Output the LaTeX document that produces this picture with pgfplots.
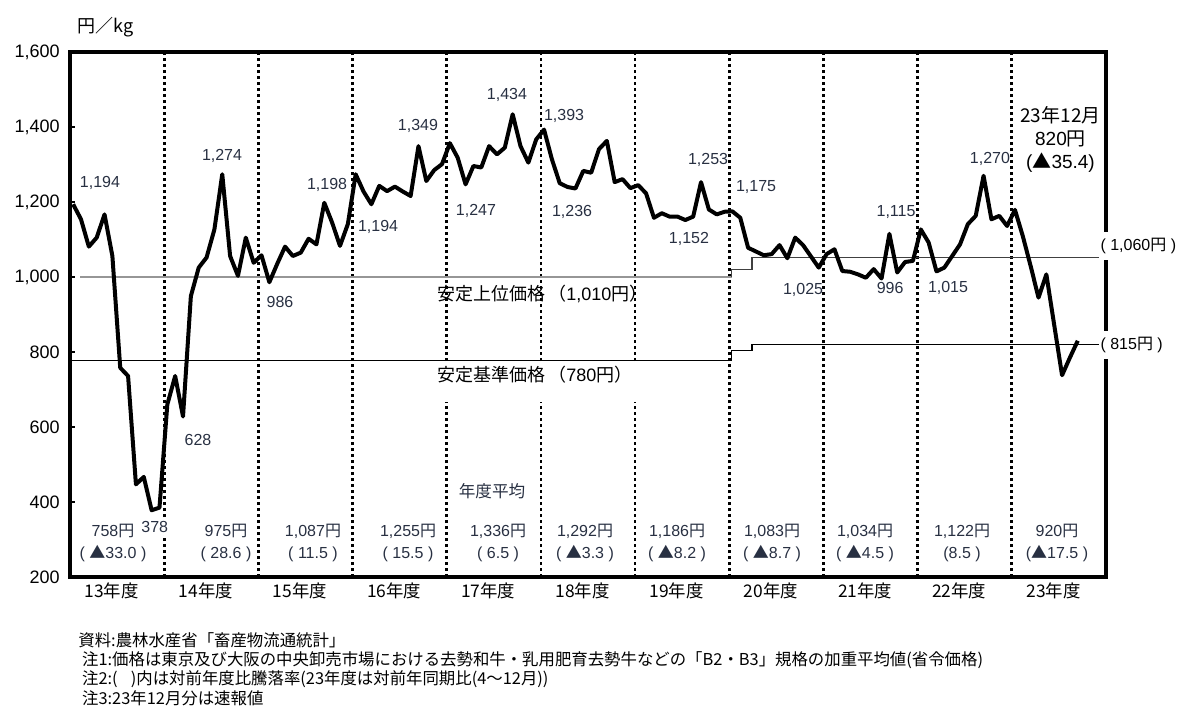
\documentclass[border=0pt]{standalone}
\usepackage{fontspec}
\setmainfont{Liberation Sans}
\newfontfamily\jp{Noto Sans CJK JP}
\usepackage{pgfplots}
\pgfplotsset{compat=1.18}
\newcommand\J[1]{{\jp #1}}
\definecolor{lab}{RGB}{40,48,66}
\definecolor{refgray}{RGB}{150,150,150}

\begin{document}
\begin{tikzpicture}
\useasboundingbox (-35pt,-66pt) rectangle (555.5pt,288.5pt);
\begin{axis}[
  at={(0,0)}, anchor=south west,
  scale only axis, width=518pt, height=262.5pt,
  xmin=-0.4, xmax=131.6, ymin=200, ymax=1600,
  axis line style={line width=1.6pt},
  ytick={200,400,...,1600},
  ytick pos=left, ytick align=inside,
  major tick length=2.5pt,
  ytick style={black, line width=0.6pt},
  /pgf/number format/1000 sep={,},
  /pgf/number format/assume math mode=true,
  yticklabel style={font=\fontsize{9}{10}\selectfont, inner sep=0pt, xshift=-5pt},
  xtick={4.9,16.9,...,124.9},
  xticklabels={13年度,14年度,15年度,16年度,17年度,18年度,19年度,20年度,21年度,22年度,23年度},
  xtick style={draw=none},
  xticklabel style={font=\jp\fontsize{8.7}{10}\selectfont, inner sep=0pt, anchor=north, yshift=-2.5pt},
  clip=false,
]
% fiscal-year boundaries
\pgfplotsinvokeforeach{11.6,23.6,35.6,47.6,59.6,71.6,83.6,95.6,107.6,119.6}{
  \draw[black, line width=1.4pt, dash pattern=on 1.4pt off 1.6pt] (axis cs:#1,200) -- (axis cs:#1,1600);
}
% reference price lines
\addplot[refgray, line width=0.7pt] coordinates {(0.9,1000) (83.9,1000)};
\addplot[black!75, line width=0.6pt] coordinates {(83.9,1000) (83.9,1021) (86.5,1021) (86.5,1053) (130.9,1053)};
\addplot[black, line width=0.6pt] coordinates {(-0.4,777) (83.9,777) (83.9,803) (86.5,803) (86.5,820) (130.9,820)};
\fill[white] (axis cs:45.7,771) rectangle (axis cs:72.9,666);

% monthly price
\addplot[black, line width=2pt, line join=round] table[x expr=\coordindex, y=v] {
v
1194
1154
1081
1105
1167
1056
758
736
447
467
378
385
660
736
628
949
1025
1052
1127
1274
1056
1003
1105
1038
1058
986
1035
1081
1056
1065
1102
1087
1198
1145
1083
1141
1274
1228
1194
1243
1229
1241
1228
1216
1349
1256
1285
1301
1357
1318
1247
1296
1292
1349
1327
1345
1434
1349
1305
1367
1393
1314
1250
1240
1236
1283
1278
1341
1363
1253
1261
1237
1245
1223
1158
1170
1161
1161
1152
1161
1253
1180
1167
1174
1175
1158
1078
1068
1058
1061
1085
1050
1105
1085
1055
1025
1061
1074
1016
1014
1007
998
1021
996
1115
1012
1040
1043
1127
1092
1015
1025
1056
1087
1141
1163
1270
1154
1163
1136
1179
1109
1029
945
1007
872
738
785
830
};

% value labels
\begin{scope}[every node/.style={text=lab, font=\fontsize{8}{9}\selectfont, inner sep=0pt}]
\node at (axis cs:3.42,1252) {1,194};
\node[fill=white, inner xsep=0.5pt, inner ysep=1pt] at (axis cs:10.4,333) {378};
\node at (axis cs:18.97,1322) {1,274};
\node at (axis cs:15.91,565) {628};
\node at (axis cs:26.36,933) {986};
\node at (axis cs:32.35,1245) {1,198};
\node at (axis cs:38.85,1133) {1,194};
\node at (axis cs:43.94,1402) {1,349};
\node at (axis cs:51.33,1175) {1,247};
\node at (axis cs:55.28,1485) {1,434};
\node at (axis cs:62.55,1429) {1,393};
\node at (axis cs:63.57,1173) {1,236};
\node at (axis cs:78.47,1101) {1,152};
\node at (axis cs:80.9,1311) {1,253};
\node at (axis cs:87.01,1239) {1,175};
\node at (axis cs:93.0,965) {1,025};
\node at (axis cs:104.85,1173) {1,115};
\node at (axis cs:104.09,970) {996};
\node at (axis cs:111.47,970) {1,015};
\node at (axis cs:116.82,1314) {1,270};
\end{scope}

% latest month
\node[text=black, font=\fontsize{9.5}{11.5}\selectfont, align=center, inner sep=0pt] at (axis cs:125.8,1367)
  {\J{23年12月}\\820\J{円}\\(\J{▲}35.4)};

% yearly averages
\begin{scope}[every node/.style={text=lab, font=\fontsize{8}{11}\selectfont, align=center, inner sep=0pt}]
\node at (axis cs:5.08,290) {758\J{円}\\( \J{▲}33.0 )};
\node at (axis cs:19.48,290) {975\J{円}\\( 28.6 )};
\node at (axis cs:30.56,290) {1,087\J{円}\\( 11.5 )};
\node at (axis cs:42.67,290) {1,255\J{円}\\( 15.5 )};
\node at (axis cs:54.14,290) {1,336\J{円}\\( 6.5 )};
\node at (axis cs:65.22,290) {1,292\J{円}\\( \J{▲}3.3 )};
\node at (axis cs:76.95,290) {1,186\J{円}\\( \J{▲}8.2 )};
\node at (axis cs:89.05,290) {1,083\J{円}\\( \J{▲}8.7 )};
\node at (axis cs:100.9,290) {1,034\J{円}\\( \J{▲}4.5 )};
\node at (axis cs:113.26,290) {1,122\J{円}\\(8.5 )};
\node at (axis cs:125.36,290) {920\J{円}\\(\J{▲}17.5 )};
\end{scope}
\node[text=lab, font=\jp\fontsize{8.3}{10}\selectfont, inner sep=0pt] at (axis cs:53.37,429) {年度平均};

% reference line labels
\node[anchor=west, font=\fontsize{9}{10}\selectfont, inner sep=0pt] at (axis cs:46.36,954) {\J{安定上位価格\,（}1,010\J{円）}};
\node[anchor=west, font=\fontsize{9}{10}\selectfont, inner sep=0pt] at (axis cs:46.36,740) {\J{安定基準価格\,（}780\J{円）}};
\node[anchor=west, fill=white, font=\fontsize{8}{9}\selectfont, inner xsep=1pt, inner ysep=3pt] at (axis cs:130.6,1082) {( 1,060\J{円} )};
\node[anchor=west, fill=white, font=\fontsize{8}{9}\selectfont, inner xsep=1pt, inner ysep=3pt] at (axis cs:130.6,818) {( 815\J{円} )};

% unit
\node[anchor=west, font=\jp\fontsize{9}{10}\selectfont, inner sep=0pt] at (axis cs:0.49,1666) {円／kg};

% notes
\begin{scope}[every node/.style={anchor=west, font=\jp\fontsize{8.2}{9}\selectfont, inner sep=0pt}]
\node at (axis cs:0.62,31) {資料:農林水産省「畜産物流通統計」};
\node at (axis cs:1.1,-22) {注1:価格は東京及び大阪の中央卸売市場における去勢和牛・乳用肥育去勢牛などの「B2・B3」規格の加重平均値(省令価格)};
\node at (axis cs:1.1,-73) {注2:(\hspace{0.8em})内は対前年度比騰落率(23年度は対前年同期比(4～12月))};
\node at (axis cs:1.1,-124) {注3:23年12月分は速報値};
\end{scope}
\end{axis}
\end{tikzpicture}
\end{document}
